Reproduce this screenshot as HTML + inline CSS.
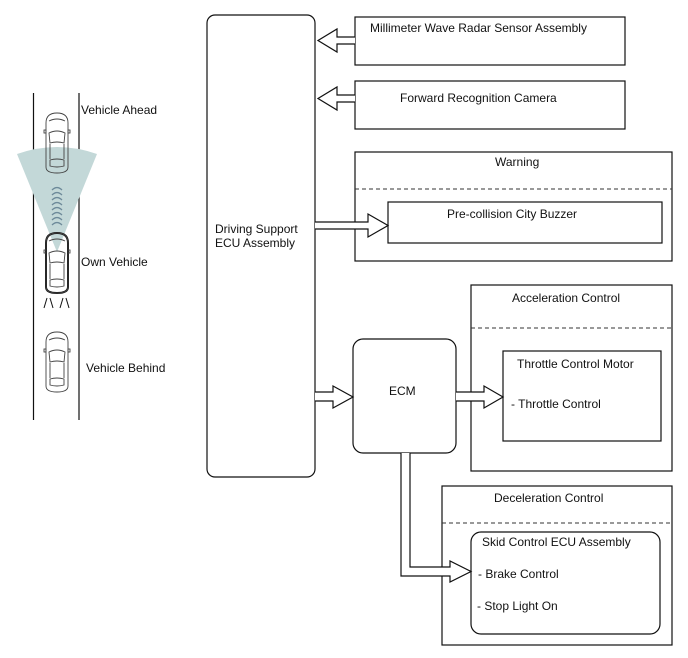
<!DOCTYPE html>
<html><head><meta charset="utf-8"><style>
html,body{margin:0;padding:0;background:#fff}
svg{display:block}
text{font-family:"Liberation Sans",Arial,sans-serif;font-size:12px;fill:#111}
</style></head><body>
<svg width="688" height="658" viewBox="0 0 688 658" xmlns="http://www.w3.org/2000/svg">
<defs>
<g id="car" fill="none" stroke="#444" stroke-width="0.9">
  <path d="M2,10 Q2,0 13,0 Q24,0 24,10 L24,54 Q24,60 13,60 Q2,60 2,54 Z"/>
  <path d="M5,20 Q13,16 21,20 L20,30 Q13,28 6,30 Z"/>
  <path d="M6,31 L6,46 M20,31 L20,46"/>
  <path d="M6,47 Q13,45 20,47 L20,53 Q13,55 6,53 Z"/>
  <path d="M5,8 Q13,4 21,8"/>
  <rect x="0" y="17" width="2" height="3"/><rect x="24" y="17" width="2" height="3"/>
</g>
</defs>
<line x1="33.5" y1="93" x2="33.5" y2="420" stroke="#111" stroke-width="1.2"/>
<line x1="79" y1="93" x2="79" y2="420" stroke="#111" stroke-width="1.2"/>
<path d="M57,252 L17,154 Q57,140 97,154 Z" fill="#c3d8d8"/>
<g fill="none" stroke="#6d8a9a" stroke-width="1.3">
  <path d="M52,190 Q57,185 62,190"/><path d="M52,195 Q57,190 62,195"/><path d="M52,200 Q57,195 62,200"/>
  <path d="M52,205 Q57,200 62,205"/><path d="M52,210 Q57,205 62,210"/><path d="M52,215 Q57,210 62,215"/>
  <path d="M52,220 Q57,215 62,220"/><path d="M52,225 Q57,220 62,225"/>
</g>
<use href="#car" x="44" y="113"/>
<use href="#car" x="44" y="332"/>
<g transform="translate(44,233)">
  <path d="M2,10 Q2,0 13,0 Q24,0 24,10 L24,54 Q24,60 13,60 Q2,60 2,54 Z" fill="none" stroke="#111" stroke-width="2"/>
  <use href="#car"/>
</g>
<g stroke="#111" stroke-width="1">
  <line x1="44" y1="308" x2="47" y2="298"/><line x1="50" y1="298" x2="53" y2="308"/>
  <line x1="60" y1="308" x2="63" y2="298"/><line x1="66" y1="298" x2="69" y2="308"/>
</g>
<text x="81" y="114">Vehicle Ahead</text>
<text x="81" y="266">Own Vehicle</text>
<text x="86" y="372">Vehicle Behind</text>

<g fill="#fff" stroke="#111" stroke-width="1.2">
<rect x="207" y="15" width="108" height="462" rx="8"/>
<rect x="355" y="17" width="270" height="48"/>
<rect x="355" y="81" width="270" height="48"/>
<rect x="355" y="152" width="317" height="109"/>
<rect x="388" y="202" width="274" height="41"/>
<rect x="471" y="285" width="201" height="186"/>
<rect x="503" y="351" width="158" height="90"/>
<rect x="353" y="339" width="103" height="114" rx="10"/>
<rect x="442" y="486" width="230" height="159"/>
<rect x="471" y="532" width="189" height="102" rx="10"/>
</g>
<g stroke="#333" stroke-width="1" stroke-dasharray="4,3">
<line x1="355" y1="189" x2="672" y2="189"/>
<line x1="471" y1="328" x2="672" y2="328"/>
<line x1="442" y1="523" x2="672" y2="523"/>
</g>
<g fill="#fff" stroke="#111" stroke-width="1.2" stroke-linejoin="miter">
<path d="M355,37 L337,37 L337,29 L318,40.5 L337,52 L337,44 L355,44"/>
<path d="M355,95 L337,95 L337,87 L318,98.5 L337,110 L337,102 L355,102"/>
<path d="M315,222 L368,222 L368,214 L388,225.5 L368,237 L368,229 L315,229"/>
<path d="M315,392 L333,392 L333,386 L353,397 L333,408 L333,401 L315,401"/>
<path d="M456,392 L484,392 L484,386 L503,397 L484,408 L484,401 L456,401"/>
<path d="M401,453 L401,576 L450,576 L450,582 L471,571.5 L450,561 L450,567 L410,567 L410,453"/>
</g>
<text x="370" y="32">Millimeter Wave Radar Sensor Assembly</text>
<text x="400" y="102">Forward Recognition Camera</text>
<text x="495" y="166">Warning</text>
<text x="447" y="218">Pre-collision City Buzzer</text>
<text x="215" y="233">Driving Support</text>
<text x="215" y="247">ECU Assembly</text>
<text x="389" y="395">ECM</text>
<text x="512" y="302">Acceleration Control</text>
<text x="517" y="368">Throttle Control Motor</text>
<text x="511" y="408">- Throttle Control</text>
<text x="494" y="502">Deceleration Control</text>
<text x="482" y="546">Skid Control ECU Assembly</text>
<text x="478" y="578">- Brake Control</text>
<text x="477" y="610">- Stop Light On</text>
</svg>
</body></html>
